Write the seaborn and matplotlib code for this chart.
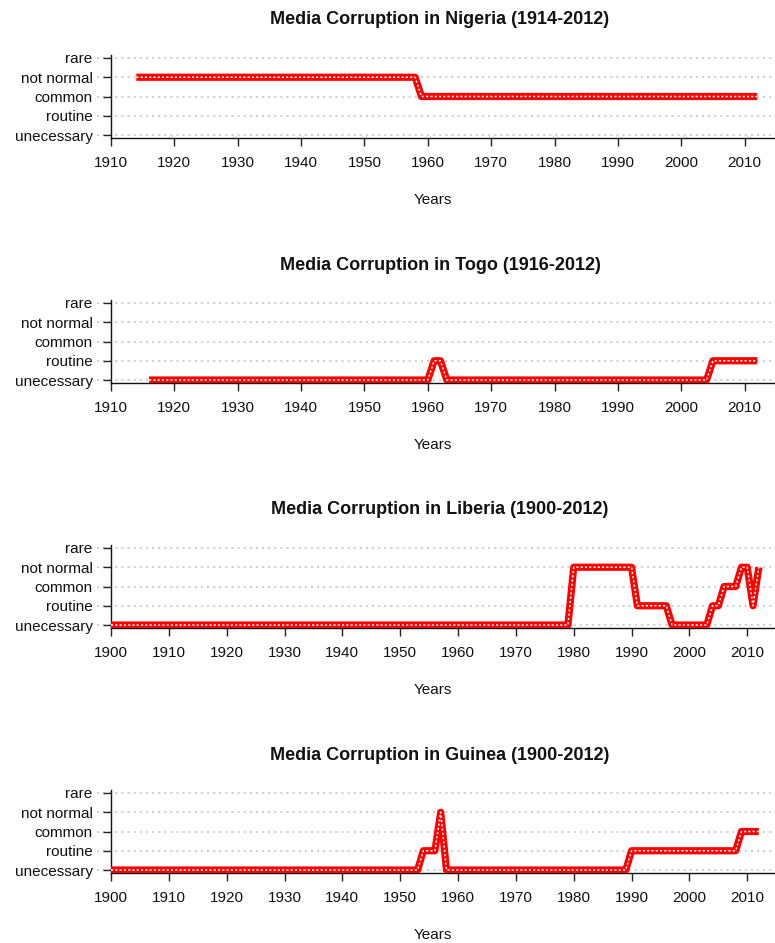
import seaborn as sns
import matplotlib.pyplot as plt
import pandas as pd

# Kategorien der y-Achse
levels = ["unecessary", "routine", "common", "not normal", "rare"]

# Daten (Wechselpunkte)
nigeria_years = [1914, 1958, 1959, 2012]
nigeria_vals = [3, 3, 2, 2]

togo_years = [1916, 1960, 1961, 1962, 1963, 2004, 2005, 2012]
togo_vals = [0, 0, 1, 1, 0, 0, 1, 1]

liberia_years = [1900, 1979, 1980, 1990, 1991, 1996, 1997, 2003, 2004, 2005,
                 2006, 2008, 2009, 2010, 2011, 2012]
liberia_vals = [0, 0, 3, 3, 1, 1, 0, 0, 1, 1, 2, 2, 3, 3, 1, 3]

guinea_years = [1900, 1953, 1954, 1956, 1957, 1958, 1989, 1990, 2008, 2009, 2012]
guinea_vals = [0, 0, 1, 1, 3, 0, 0, 1, 1, 2, 2]

panels = [
    ("Media Corruption in Nigeria (1914-2012)", nigeria_years, nigeria_vals, 1910),
    ("Media Corruption in Togo (1916-2012)", togo_years, togo_vals, 1910),
    ("Media Corruption in Liberia (1900-2012)", liberia_years, liberia_vals, 1900),
    ("Media Corruption in Guinea (1900-2012)", guinea_years, guinea_vals, 1900),
]

sns.set_style("ticks")
plt.rcParams["font.family"] = ["Liberation Sans", "DejaVu Sans"]

W, H = 775, 943
fig = plt.figure(figsize=(W / 100, H / 100), dpi=100)

for i, (title, yrs, vals, start) in enumerate(panels):
    off = 245 * i
    top_px = 54.9 + off
    bot_px = 138.1 + off
    ax = fig.add_axes([111 / W, 1 - bot_px / H, 664 / W, (bot_px - top_px) / H])
    df = pd.DataFrame({"Year": yrs, "Value": vals})

    # Gitterlinien
    for lv in range(5):
        ax.axhline(lv, xmin=-0.021, xmax=1, color="#c4c4c4", lw=1.1,
                   ls=(0, (1.4, 2.6)), zorder=0, clip_on=False)

    sns.lineplot(data=df, x="Year", y="Value", ax=ax, color="#ff0000", lw=5.2,
                 solid_capstyle="butt", solid_joinstyle="round", zorder=3)
    sns.lineplot(data=df, x="Year", y="Value", ax=ax, color="white", lw=1.1,
                 zorder=4)
    ax.lines[-1].set_linestyle((0, (1.4, 1.4)))
    ax.lines[-1].set_dash_capstyle("butt")

    ax.set_xlim(start, 2014.8)
    ax.set_ylim(-0.16, 4.16)
    ax.set_yticks(range(5))
    ax.set_yticklabels(levels)
    ax.set_xticks(list(range(start, 2011, 10)))
    ax.tick_params(axis="both", labelsize=11, length=5.8, width=1.0,
                   color="#222222", labelcolor="#111111")
    ax.tick_params(axis="x", pad=7)
    ax.tick_params(axis="y", pad=7.5)
    for s in ["top", "right"]:
        ax.spines[s].set_visible(False)
    for s in ["left", "bottom"]:
        ax.spines[s].set_linewidth(1.0)
        ax.spines[s].set_color("#111111")

    ax.set_ylabel("")
    ax.set_xlabel("Years", fontsize=11, color="#111111")
    ax.xaxis.set_label_coords((433 - 111) / 664, -(193 - 138.1) / (bot_px - top_px))
    ax.xaxis.label.set_va("top")

    fig.text(440 / W, 1 - (20 + off) / H, title, ha="center", va="center",
             fontsize=13, fontweight="bold", color="#111111")

fig.savefig("out.png", dpi=100)
